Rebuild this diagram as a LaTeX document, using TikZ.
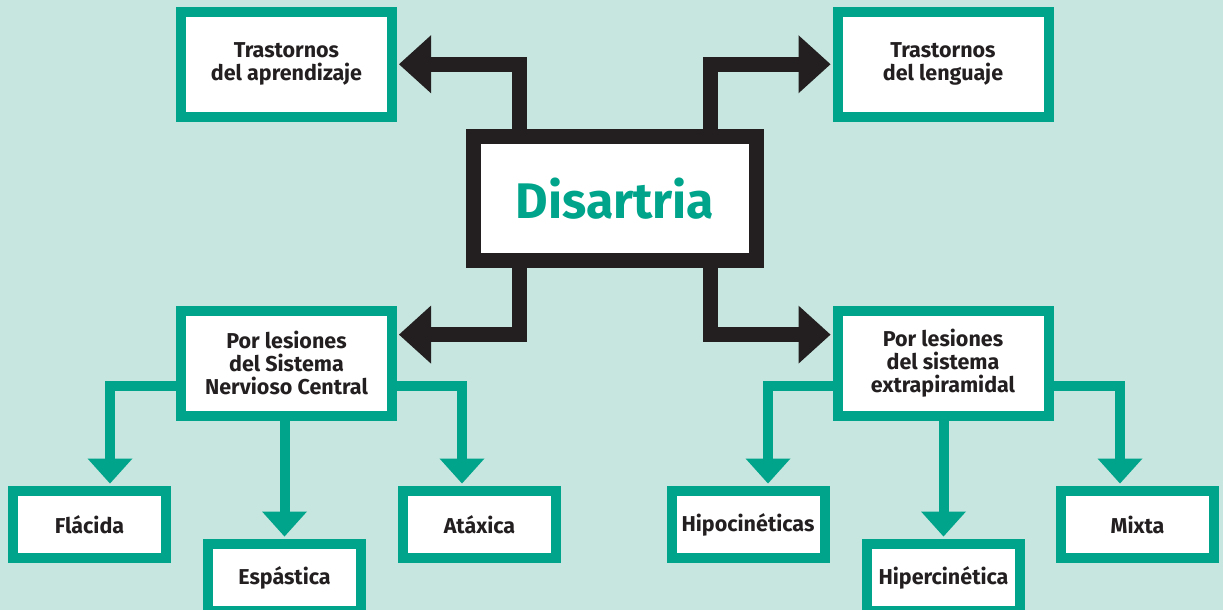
\documentclass[tikz,border=0pt]{standalone}
\usepackage{fontspec}
\setmainfont{Fira Sans}
\usetikzlibrary{arrows.meta,calc}
\definecolor{fondo}{HTML}{C7E6DF}
\definecolor{verde}{HTML}{00A48A}
\definecolor{negro}{HTML}{231F20}
\tikzstyle{caja}=[
  draw=verde,
  line width=10pt,
  fill=white,
  minimum width=153pt,
  minimum height=67pt,
  align=center,
  text=negro,
  font=\bfseries\fontsize{21.5}{23}\selectfont
]
\tikzstyle{cajagrande}=[caja, minimum width=211pt, minimum height=104.5pt]
\tikzstyle{centro}=[
  draw=negro,
  line width=15pt,
  fill=white,
  minimum width=283pt,
  minimum height=124pt,
  text=verde,
  font=\bfseries\fontsize{50}{52}\selectfont
]
\tikzstyle{flecha}=[draw=negro, line width=15pt,
  -{Triangle[length=32pt,width=58pt,line width=0pt]}, shorten >=2pt]
\tikzstyle{rama}=[draw=verde, line width=10pt,
  -{Triangle[length=25pt,width=45pt,line width=0pt]}, shorten >=2.5pt]

\begin{document}
\begin{tikzpicture}[x=1pt,y=-1pt]
          \def \yArriba {64.25}
          \def \yMedio {363.25}
          \def \yHoja {524.5}
          \def \yBajo {577.5}
          \def \dStem {95.5}

          \useasboundingbox (0,0) rectangle (1223,610);
          \fill[fondo] (0,0) rectangle (1223,610);
          \clip (0,0) rectangle (1223,610);

          \node[centro] (dis) at (615, 198.5) {Disartria};

          \node[cajagrande] (ta) at (286.5, \yArriba) {Trastornos\\del aprendizaje};
          \node[cajagrande] (tl) at (943, \yArriba) {Trastornos\\del lenguaje};
          \node[cajagrande] (snc) at (286.5, \yMedio) {Por lesiones\\del Sistema\\Nervioso Central};
          \node[cajagrande] (sep) at (943, \yMedio) {Por lesiones\\del sistema\\extrapiramidal};

          \node[caja] (flacida) at (89.5, \yHoja) {Flácida};
          \node[caja] (espastica) at (284.5, \yBajo) {Espástica};
          \node[caja] (ataxica) at (479.5, \yHoja) {Atáxica};
          \node[caja] (hipo) at (748, \yHoja) {Hipocinéticas};
          \node[caja] (hiper) at (943.5, \yBajo) {Hipercinética};
          \node[caja] (mixta) at (1137.5, \yHoja) {Mixta};

          % flechas negras desde el centro
          \draw[flecha] ([xshift=-\dStem pt]dis.north) |- (ta.east);
          \draw[flecha] ([xshift=\dStem pt]dis.north) |- (tl.west);
          \draw[flecha] ([xshift=-\dStem pt]dis.south) |- ($(snc.north east)!.25!(snc.south east)$);
          \draw[flecha] ([xshift=\dStem pt]dis.south) |- ($(sep.north west)!.25!(sep.south west)$);

          % ramas verdes
          \foreach \padre/\lado/\hijo/\dx in {snc/west/flacida/20.5, snc/east/ataxica/-17.5,
                                             sep/west/hipo/20, sep/east/mixta/-17.5}{
            \draw[rama] ($(\padre.north \lado)!.7!(\padre.south \lado)$) -| ([xshift=\dx pt]\hijo.north);
          }
          \foreach \padre/\hijo in {snc/espastica, sep/hiper}{
            \draw[rama] (\padre.south -| \hijo.north) -- (\hijo.north);
          }
        \end{tikzpicture}
\end{document}
